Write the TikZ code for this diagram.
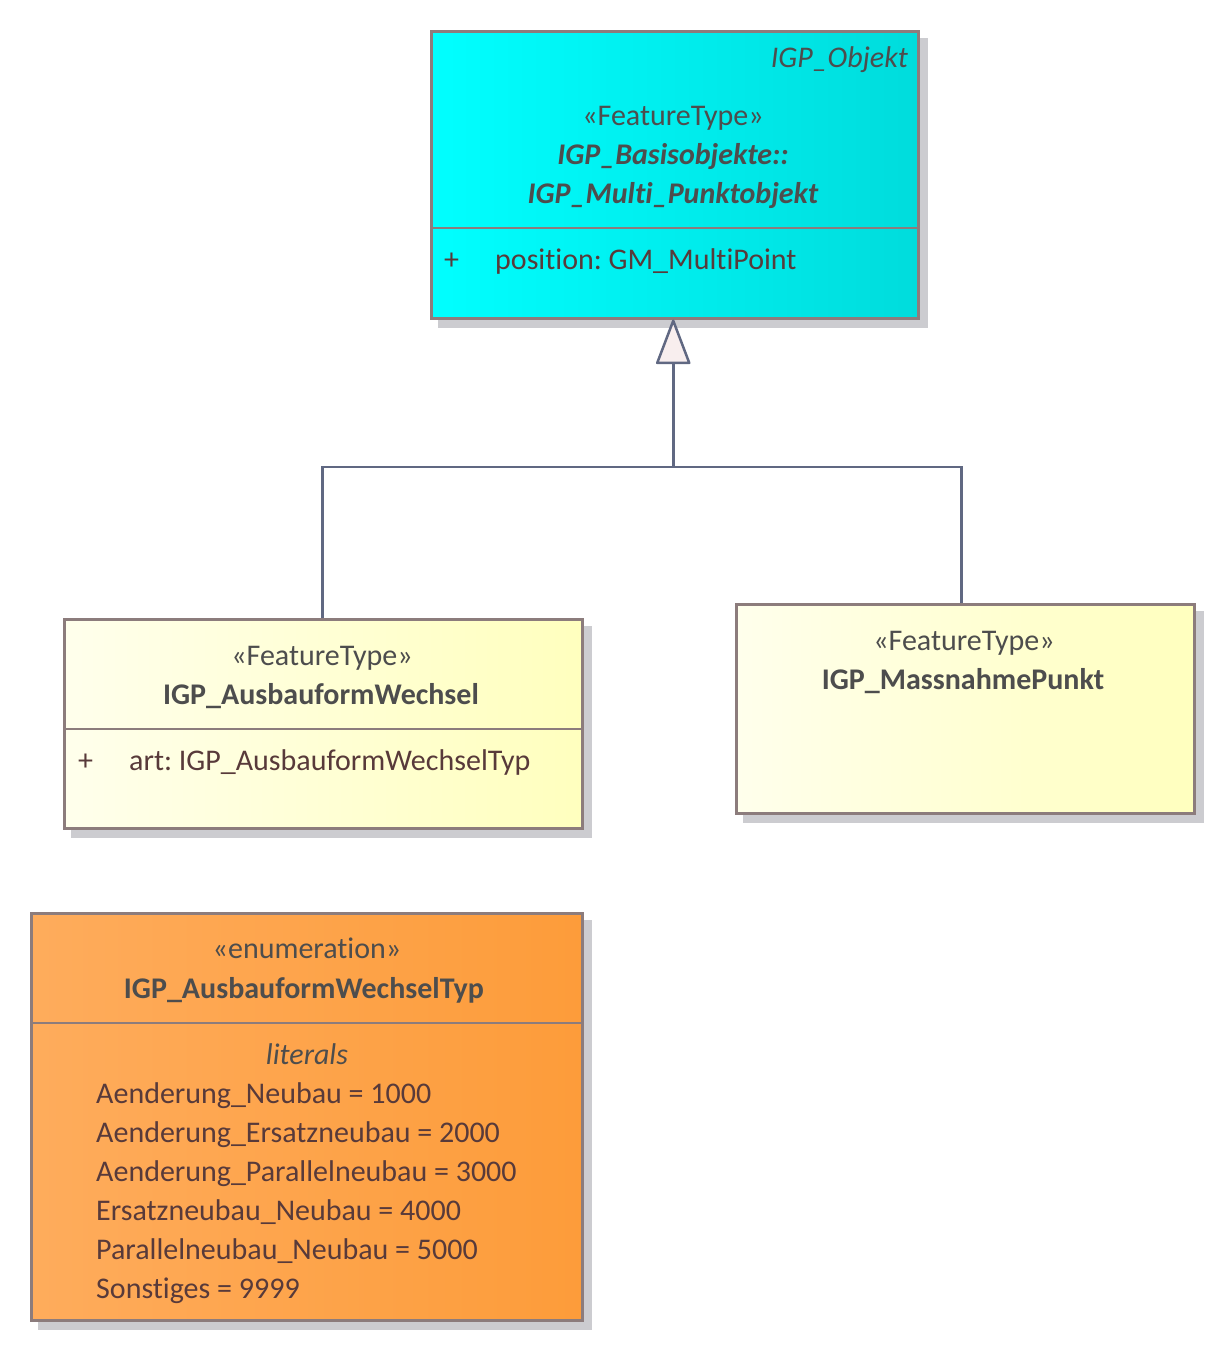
\documentclass[tikz,border=0pt]{standalone}
\usepackage{fontspec}
\setmainfont{Carlito}[Ligatures=CommonOff]
\usetikzlibrary{arrows.meta,positioning,backgrounds}
\frenchspacing

\definecolor{umlrand}{RGB}{140,124,124}
\definecolor{umllinie}{RGB}{96,104,130}
\definecolor{umlname}{RGB}{77,77,77}
\definecolor{umlattr}{RGB}{88,58,58}
\definecolor{schatten}{RGB}{204,204,208}
\definecolor{dreieck}{RGB}{248,238,238}
\definecolor{cyanL}{RGB}{0,255,255}
\definecolor{cyanR}{RGB}{0,220,220}
\definecolor{gelbL}{RGB}{255,255,236}
\definecolor{gelbR}{RGB}{255,255,190}
\definecolor{orangeL}{RGB}{254,172,92}
\definecolor{orangeR}{RGB}{253,156,58}

\begin{document}
\begin{tikzpicture}[
  x=1pt, y=-1pt,
  font=\fontsize{30}{39}\selectfont,
  klasse/.style={rectangle, draw=umlrand, line width=2.5pt, anchor=north west,
                 inner sep=0pt},
  ftyp/.style={klasse, left color=gelbL, right color=gelbR},
  trenner/.style={draw=umlrand, line width=2.5pt},
  schattig/.style={fill=schatten},
  stereo/.style={anchor=base, text=umlname, inner sep=0pt},
  kname/.style={anchor=base, text=umlname, font=\fontsize{30}{39}\selectfont\bfseries, inner sep=0pt},
  attr/.style={anchor=base west, text=umlattr, inner sep=0pt},
  linie/.style={draw=umllinie, line width=2.5pt},
  erbt/.style={linie, -{Triangle[length=47pt, width=35pt, open, fill=dreieck, line join=round]}}
]
\useasboundingbox (0,0) rectangle (1224,1350);

% --- Klassen ---
\node[klasse, minimum width=487pt, minimum height=287pt,
      left color=cyanL, right color=cyanR] (objekt) at (430,30) {};
\node[ftyp, minimum width=518pt, minimum height=209pt] (wechsel) at (63,618) {};
\node[ftyp, minimum width=458pt, minimum height=209pt] (punkt) at (735,603) {};
\node[klasse, minimum width=551pt, minimum height=407pt,
      left color=orangeL, right color=orangeR] (enum) at (30,912) {};

% Schatten
\begin{scope}[on background layer]
  \foreach \k in {objekt, wechsel, punkt, enum}
    \fill[schattig] ([shift={(8,8)}]\k.north west) rectangle ([shift={(8,8)}]\k.south east);
\end{scope}

% Trennlinien
\draw[trenner] (objekt.west |- 0,228) -- (objekt.east |- 0,228);
\draw[trenner] (wechsel.west |- 0,729) -- (wechsel.east |- 0,729);
\draw[trenner] (enum.west |- 0,1023) -- (enum.east |- 0,1023);

% --- Texte: IGP_Multi_Punktobjekt ---
\node[stereo, anchor=base east, font=\fontsize{30}{39}\selectfont\itshape] (objekt-pkg) at (908,67) {IGP\_Objekt};
\node[stereo] (objekt-st) at (673,125) {«FeatureType»};
\node[kname, font=\fontsize{30}{39}\selectfont\bfseries\itshape] (objekt-n1) at (673,164) {IGP\_Basisobjekte::};
\node[kname, font=\fontsize{30}{39}\selectfont\bfseries\itshape] (objekt-n2) at (673,203) {IGP\_Multi\_Punktobjekt};
\node[attr] (objekt-plus) at (444,269) {+};
\node[attr] (objekt-a1) at (495,269) {position: GM\_MultiPoint};

% --- Texte: IGP_AusbauformWechsel ---
\node[stereo] (wechsel-st) at (322,665) {«FeatureType»};
\node[kname] (wechsel-n) at (321,704) {IGP\_AusbauformWechsel};
\node[attr] (wechsel-plus) at (78,770) {+};
\node[attr] (wechsel-a1) at (129,770) {art: IGP\_AusbauformWechselTyp};

% --- Texte: IGP_MassnahmePunkt ---
\node[stereo] (punkt-st) at (964,650) {«FeatureType»};
\node[kname] (punkt-n) at (963,689) {IGP\_MassnahmePunkt};

% --- Texte: IGP_AusbauformWechselTyp ---
\node[stereo] (enum-st) at (307,958) {«enumeration»};
\node[kname] (enum-n) at (304,998) {IGP\_AusbauformWechselTyp};
\node[stereo, font=\fontsize{30}{39}\selectfont\itshape] (enum-lit) at (307,1064) {literals};
\foreach \w [count=\i] in {Aenderung\_Neubau = 1000, Aenderung\_Ersatzneubau = 2000,
    Aenderung\_Parallelneubau = 3000, Ersatzneubau\_Neubau = 4000,
    Parallelneubau\_Neubau = 5000, Sonstiges = 9999}
  \node[attr] (enum-w\i) at (96,1064+39*\i) {\w};

% --- Generalisierung ---
\coordinate (spitze) at ([xshift=-1.5pt]objekt.south);
\coordinate (gabel) at (spitze |- 0,467);
\draw[linie] ([xshift=-1pt]wechsel.north) |- (gabel);
\draw[linie] ([xshift=-4pt]punkt.north) |- (gabel);
\draw[erbt] (gabel) -- (spitze);

\end{tikzpicture}
\end{document}
